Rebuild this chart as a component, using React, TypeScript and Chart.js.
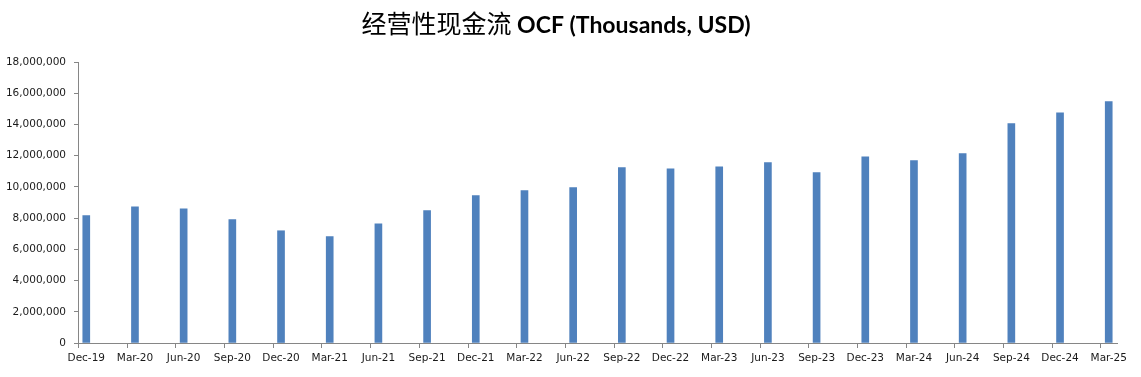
import React, { useEffect, useRef } from "react";
import { Chart, registerables } from "chart.js";

Chart.register(...registerables);

const categories = [
  "Dec-19", "Mar-20", "Jun-20", "Sep-20", "Dec-20", "Mar-21", "Jun-21", "Sep-21",
  "Dec-21", "Mar-22", "Jun-22", "Sep-22", "Dec-22", "Mar-23", "Jun-23", "Sep-23",
  "Dec-23", "Mar-24", "Jun-24", "Sep-24", "Dec-24", "Mar-25",
];

const ocfValues = [
  8170000, 8730000, 8600000, 7900000, 7190000, 6810000, 7640000, 8480000,
  9440000, 9760000, 9950000, 11230000, 11160000, 11290000, 11550000, 10910000,
  11930000, 11680000, 12130000, 14050000, 14750000, 15460000,
];

const yMin = 0;
const yMax = 18000000;
const yStep = 2000000;

const titleCn = "经营性现金流 ";
const titleEn = "OCF (Thousands, USD)";

const AXIS_COLOR = "#868686";
const TEXT_COLOR = "#1a1a1a";
const BAR_COLOR = "#4F81BD";
const TICK_SHIFT = 0.17;

const titlePlugin = {
  id: "mixedTitle",
  afterDraw(chart: any) {
    const ctx = chart.ctx;
    ctx.save();
    const cnFont = "normal 25px 'Noto Sans CJK SC'";
    const enFont = "bold 23px Lato, 'DejaVu Sans', sans-serif";
    ctx.font = cnFont;
    const wCn = ctx.measureText(titleCn).width;
    ctx.font = enFont;
    const wEn = ctx.measureText(titleEn).width;
    const center = 556;
    const start = center - (wCn + wEn) / 2;
    const baseline = 33;
    ctx.fillStyle = "#000";
    ctx.textBaseline = "alphabetic";
    ctx.textAlign = "left";
    ctx.font = cnFont;
    ctx.fillText(titleCn, start, baseline);
    ctx.font = enFont;
    ctx.fillText(titleEn, start + wCn, baseline);
    ctx.restore();
  },
};

const xTickPlugin = {
  id: "shiftedXTicks",
  afterDraw(chart: any) {
    const xs = chart.scales.x;
    const ctx = chart.ctx;
    const y0 = chart.chartArea.bottom;
    ctx.save();
    ctx.strokeStyle = AXIS_COLOR;
    ctx.lineWidth = 1;
    ctx.beginPath();
    categories.forEach((_, i) => {
      const px = Math.round(xs.getPixelForValue(i - TICK_SHIFT)) + 0.5;
      ctx.moveTo(px, y0);
      ctx.lineTo(px, y0 + 5);
    });
    ctx.stroke();
    ctx.restore();
  },
};

export default function App() {
  const canvasRef = useRef<HTMLCanvasElement | null>(null);

  useEffect(() => {
    if (!canvasRef.current) return;
    const tickFont = { family: "'DejaVu Sans', Verdana, sans-serif", size: 10.5 };
    const chart = new Chart(canvasRef.current, {
      type: "bar",
      data: {
        datasets: [
          {
            label: "OCF",
            data: ocfValues.map((v, i) => ({ x: i, y: v })),
            backgroundColor: BAR_COLOR,
            barThickness: 7,
          },
        ],
      },
      options: {
        responsive: false,
        animation: false,
        layout: { padding: { top: 62, right: 24, bottom: 0, left: 0 } },
        plugins: {
          legend: { display: false },
          tooltip: { enabled: false },
          title: { display: false },
        },
        scales: {
          x: {
            type: "linear",
            offset: false,
            min: -TICK_SHIFT,
            max: categories.length - 1 + TICK_SHIFT,
            afterBuildTicks: (s: any) => {
              s.ticks = categories.map((_, i) => ({ value: i }));
            },
            afterFit: (s: any) => {
              s.height = 34;
            },
            ticks: {
              callback: (v: any) => categories[Number(v)] ?? "",
              autoSkip: false,
              maxRotation: 0,
              minRotation: 0,
              padding: 9,
              color: TEXT_COLOR,
              font: tickFont,
            },
            grid: { display: true, offset: false, drawOnChartArea: false, drawTicks: false },
            border: { display: true, color: AXIS_COLOR, width: 1 },
          },
          y: {
            min: yMin,
            max: yMax,
            afterFit: (s: any) => {
              s.width = 78;
            },
            ticks: {
              stepSize: yStep,
              callback: (v: any) => Number(v).toLocaleString("en-US"),
              padding: 8,
              color: TEXT_COLOR,
              font: tickFont,
            },
            grid: { display: true, drawOnChartArea: false, drawTicks: true, tickLength: 4, color: AXIS_COLOR },
            border: { display: true, color: AXIS_COLOR, width: 1 },
          },
        },
      },
      plugins: [titlePlugin, xTickPlugin],
    });
    return () => chart.destroy();
  }, []);

  return (
    <div style={{ position: "absolute", left: 0, top: 0, width: 1141, height: 377, background: "#fff" }}>
      <canvas ref={canvasRef} width={1141} height={377} style={{ display: "block" }} />
    </div>
  );
}
